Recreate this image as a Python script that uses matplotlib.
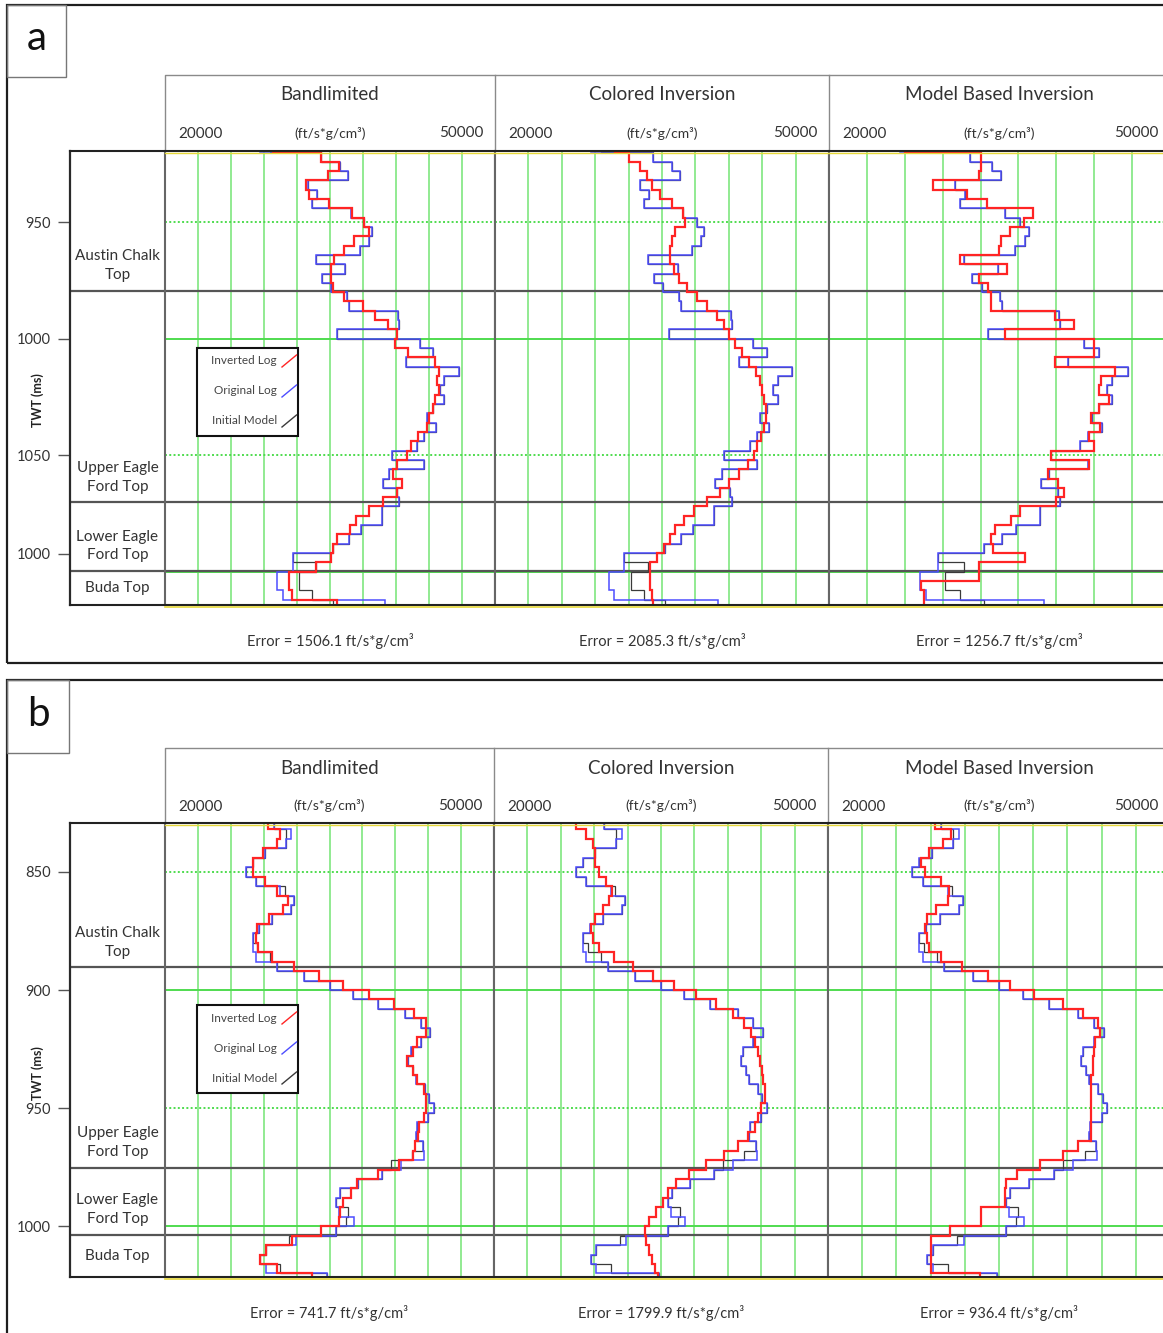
import numpy as np
import matplotlib
matplotlib.use("Agg")
import matplotlib.pyplot as plt
from matplotlib.lines import Line2D
from matplotlib.patches import Rectangle

plt.rcParams["font.family"] = ["Lato", "DejaVu Sans"]

W, H = 1163, 1333
TEXT = "#333333"
GRID = "#74e474"
HGRID = "#4fdc4f"
RED, BLUE, BLACK = "#ff2424", "#4d4dff", "#3a3a3a"

track_names = ["Bandlimited", "Colored Inversion", "Model Based Inversion"]
unit_label = "(ft/s*g/cm\u00b3)"
scale_labels = ["20000", "50000"]
legend_names = ["Inverted Log", "Original Log", "Initial Model"]
formation_names = ["Austin Chalk\nTop", "Upper Eagle\nFord Top", "Lower Eagle\nFord Top", "Buda Top"]

# ---- well a: 4 ms blocks from 916 ms, impedance in ft/s*g/cm3 ----
edges_a = np.arange(916, 1117, 4)
original_a = [28600,
              34200, 35900, 36600, 33000, 33800, 33400, 36900, 38100, 38800, 38500,
              37700, 33700, 36400, 34300, 35100, 36500, 36700, 41200, 41300, 35600,
              43200, 44400, 41900, 46700, 45400, 45000, 45400, 44400, 43800, 44600,
              43500, 42900, 40600, 43500, 40400, 39800, 41100, 41300, 39700, 39700,
              37800, 36700, 35300, 31600, 31600, 30200, 30200, 30700, 40000]
initial_a = [29500,
             34200, 35900, 36600, 33000, 33800, 33400, 36900, 38100, 38800, 38500,
             37700, 33700, 36400, 34300, 35100, 36500, 36700, 41200, 41300, 35600,
             43200, 44400, 41900, 46700, 45400, 45000, 45400, 44400, 43800, 44600,
             43500, 42900, 40600, 43500, 40400, 39800, 41100, 41300, 39700, 39700,
             37800, 36700, 35300, 31600, 33700, 32200, 32200, 33400, 35300]
bandlimited_a = [29800,
                 34200, 35800, 34800, 32800, 33100, 34900, 37000, 38100, 38500, 37200,
                 36300, 35400, 35100, 35100, 35300, 36300, 38000, 39100, 40300, 41100,
                 40900, 42100, 44500, 44900, 44700, 44900, 44500, 44400, 44000, 43800,
                 43000, 42400, 42000, 41100, 40700, 41500, 41100, 39800, 38500, 37400,
                 36800, 35600, 35300, 35100, 33700, 31300, 31300, 31500, 35600]
colored_a = [30800,
             32000, 33050, 33650, 34100, 34850, 35900, 36900, 37100, 36200, 35900,
             35700, 35750, 36050, 36500, 37250, 38150, 39050, 39950, 40550, 41000,
             41600, 42200, 42800, 43400, 43800, 44000, 44200, 44300, 44300, 44150,
             43900, 43550, 43250, 42700, 41900, 41000, 40250, 39050, 37850, 36950,
             36200, 35750, 35150, 34550, 33950, 33900, 33950, 34100, 34200]
model_a = [29000,
           35000, 35000, 34850, 31200, 33900, 35500, 39150, 38450, 37300, 36650,
           36450, 33400, 37100, 34900, 35600, 35850, 35850, 40900, 42400, 36900,
           43950, 43950, 40900, 45650, 44550, 44350, 45200, 44350, 43750, 44450,
           43550, 43950, 40600, 43550, 40350, 41150, 41600, 41000, 38100, 37450,
           36150, 35850, 36000, 38500, 34900, 34900, 30300, 30550, 30550]
tops_a = [979.4, 1070.2, 1099.7]
errors_a = [1506.1, 2085.3, 1256.7]
yticks_a = [950, 1000, 1050, 1092.4]
yticklabels_a = ["950", "1000", "1050", "1000"]
scales_a = [(20000, 50000), (20000, 50000), (23000, 50000)]

# ---- well b ----
edges_b = np.arange(828, 1025, 4)
original_b = [29900, 31500, 31000, 29100, 28000, 27400, 28300, 30500, 31800, 31500,
              29800, 28600, 28000, 28000, 28300, 30200, 32700, 35000, 37100, 39400,
              41900, 43300, 44200, 43300, 42400, 42200, 42600, 42900, 43700, 44100,
              44500, 44000, 43000, 42900, 43500, 43600, 41500, 39800, 37600, 36000,
              35600, 35900, 37200, 35600, 31900, 29200, 28700, 29200, 34800]
initial_b = [29900, 31000, 31000, 29100, 28000, 27400, 28300, 30900, 31800, 31500,
             29800, 28600, 28000, 28400, 29600, 30200, 32700, 35000, 37100, 39400,
             41900, 43300, 44200, 43300, 42400, 42200, 42600, 42900, 43700, 44100,
             44500, 44000, 43000, 42900, 43500, 42500, 40600, 39800, 37600, 36000,
             35600, 36700, 36500, 35600, 31300, 29200, 28700, 30500, 34800]
bandlimited_b = [29400, 30500, 30200, 28900, 28000, 28000, 29100, 30200, 31200, 30800,
                 29500, 28400, 28300, 28500, 29800, 31800, 34000, 36200, 38600, 40900,
                 42700, 43800, 43800, 43000, 42600, 42100, 42600, 43000, 43600, 43800,
                 43800, 43600, 43200, 43100, 42800, 42600, 41300, 39400, 37500, 37000,
                 36200, 36000, 35900, 34200, 31600, 29200, 28700, 30200, 33400]
colored_b = [27400, 28250, 28850, 29100, 29100, 29400, 30050, 30600, 30350, 29750,
             29100, 28700, 28900, 29450, 30800, 32450, 34250, 36200, 38150, 39950,
             41450, 42500, 43100, 43400, 43700, 43900, 44100, 44200, 44300, 44300,
             44000, 43700, 43400, 42800, 41900, 40700, 39050, 37500, 36350, 35600,
             35150, 34550, 33950, 33600, 33650, 33900, 34200, 34500, 34700]
model_b = [29400, 30800, 30100, 28900, 28200, 28500, 29950, 30600, 30500, 29500,
           28650, 28500, 28650, 28850, 29950, 31750, 34000, 35950, 38100, 40650,
           42400, 43700, 43850, 43450, 43350, 43250, 43250, 43100, 43050, 43050,
           43100, 43100, 43100, 43100, 41950, 40650, 38600, 36550, 35650, 35500,
           35500, 33450, 33450, 30700, 29050, 29000, 29000, 29050, 33300]
tops_b = [890.3, 975.3, 1003.7]
errors_b = [741.7, 1799.9, 936.4]
yticks_b = [850, 900, 950, 1000]
yticklabels_b = ["850", "900", "950", "1000"]
scales_b = [(20000, 50000), (20000, 50000), (20000, 50000)]

layout_a = dict(frame=(7, 5, 1180, 663), letter_box=(7, 5, 66, 77), header_top=75,
                track_top=150.5, track_bottom=605, error_y=641,
                track_x=[165, 495, 829, 1170], legend=(197, 348, 298, 436),
                tlim=(919.2, 1114.3))
layout_b = dict(frame=(7, 680, 1180, 1350), letter_box=(7, 680, 69, 753), header_top=748,
                track_top=823, track_bottom=1277, error_y=1313,
                track_x=[165, 494, 828, 1170], legend=(197, 1005, 298, 1093),
                tlim=(829.3, 1021.5))


def fig_box(x0, y0, x1, y1):
    return [x0 / W, 1 - y1 / H, (x1 - x0) / W, (y1 - y0) / H]


def fig_line(fig, xs, ys, **kw):
    fig.add_artist(Line2D([x / W for x in xs], [1 - y / H for y in ys],
                          transform=fig.transFigure, **kw))


def fig_rect(fig, x0, y0, x1, y1, **kw):
    kw.setdefault("fill", False)
    fig.add_artist(Rectangle((x0 / W, 1 - y1 / H), (x1 - x0) / W, (y1 - y0) / H,
                             transform=fig.transFigure, **kw))


def fig_text(fig, x, y, s, **kw):
    fig.text(x / W, 1 - y / H, s, **kw)


def draw_panel(fig, lay, letter, edges, original, initial, inverted, scales,
               tops, yticks, yticklabels, errors):
    fig_rect(fig, *lay["frame"], lw=1.6, edgecolor="#1e1e1e")
    lx0, ly0, lx1, ly1 = lay["letter_box"]
    fig_rect(fig, lx0, ly0, lx1, ly1, lw=1.0, edgecolor="#777777")
    fig_text(fig, (lx0 + lx1) / 2, (ly0 + ly1) / 2 - 2, letter, fontsize=29,
             ha="center", va="center", color="#111111")

    xs = lay["track_x"]
    ht, tt, tb = lay["header_top"], lay["track_top"], lay["track_bottom"]
    t0, t1 = lay["tlim"]

    # header with track titles and scale
    fig_line(fig, [xs[0], xs[0], 1180], [tt, ht, ht], lw=1.0, color="#8a8a8a")
    for x in xs[1:-1]:
        fig_line(fig, [x, x], [ht, tt], lw=1.0, color="#8a8a8a")
    for k, name in enumerate(track_names):
        xa, xb = xs[k], xs[k + 1]
        xm = (xa + xb) / 2
        fig_text(fig, xm, ht + 20, name, fontsize=13.5, ha="center", va="center", color=TEXT)
        fig_text(fig, xa + 13, ht + 59, scale_labels[0], fontsize=11, ha="left", va="center", color=TEXT)
        fig_text(fig, xb - 12, ht + 58, scale_labels[1], fontsize=11, ha="right", va="center", color=TEXT)
        fig_text(fig, xm, ht + 58, unit_label, fontsize=10, ha="center", va="center", color=TEXT)
        fig_text(fig, xm, lay["error_y"], f"Error = {errors[k]} ft/s*g/cm\u00b3",
                 fontsize=10.5, ha="center", va="center", color=TEXT)

    # time axis and formation names
    ax_lab = fig.add_axes(fig_box(70, tt, xs[0], tb))
    ax_lab.set_xlim(0, 1)
    ax_lab.set_ylim(t1, t0)
    ax_lab.set_xticks([])
    ax_lab.set_yticks(yticks)
    ax_lab.set_yticklabels(yticklabels, fontsize=10.5, color=TEXT)
    ax_lab.tick_params(axis="y", length=9, width=1.0, pad=5, color="#555555")
    for side in ["right", "top", "bottom"]:
        ax_lab.spines[side].set_visible(False)
    ax_lab.spines["left"].set_linewidth(1.6)
    ax_lab.spines["left"].set_color("#2a2a2a")
    for t in tops:
        ax_lab.axhline(t, color="#555555", lw=1.6)
    for name, t in zip(formation_names[:3], tops):
        ax_lab.annotate(name, xy=(0.5, t), xycoords=("axes fraction", "data"),
                        xytext=(0, 25), textcoords="offset pixels", ha="center", va="center",
                        fontsize=11, linespacing=1.45, color=TEXT)
    ax_lab.text(0.5, (tops[-1] + t1) / 2, formation_names[3], ha="center", va="center",
                fontsize=11, color=TEXT, transform=ax_lab.get_yaxis_transform())
    fig_text(fig, 38, tt + 250, "TWT (ms)", fontsize=9, fontweight="bold", rotation=90,
             ha="center", va="center", color="#222222")

    grid_times = np.arange(np.ceil(t0 / 50) * 50, t1, 50)
    for k in range(3):
        ax = fig.add_axes(fig_box(xs[k], tt, xs[k + 1], tb))
        lo, hi = scales[k]
        ax.set_xlim(lo, hi)
        ax.set_ylim(t1, t0)
        for v in np.arange(lo + 3000, hi, 3000):
            ax.axvline(v, color=GRID, lw=1.1, zorder=1)
        for t in grid_times:
            if t % 100 == 0:
                ax.axhline(t, color=HGRID, lw=1.4, zorder=1)
            else:
                ax.axhline(t, color=HGRID, lw=1.4, ls=(0, (1, 1.2)), zorder=1)
        for t in tops:
            ax.axhline(t, color="#555555", lw=1.6, zorder=1.5)
        # initial model sits underneath the original log
        ax.stairs(initial, edges, orientation="horizontal", baseline=None,
                  color=BLACK, lw=0.9, zorder=2)
        ax.stairs(original, edges, orientation="horizontal", baseline=None,
                  color=BLUE, lw=1.1, zorder=2.2)
        ax.stairs(inverted[k], edges, orientation="horizontal", baseline=None,
                  color=RED, lw=1.6, zorder=3)
        ax.set_xticks([])
        ax.set_yticks([])
        for side in ["top", "bottom"]:
            ax.spines[side].set_visible(False)
        for side in ["left", "right"]:
            ax.spines[side].set_color("#666666")
            ax.spines[side].set_linewidth(1.5)

    # log track frame lines
    fig_line(fig, [70, 1180], [tt, tt], lw=1.5, color="#222222")
    fig_line(fig, [xs[0], 1180], [tt + 2, tt + 2], lw=1.0, color="#e6d83a")
    fig_line(fig, [70, 1180], [tb, tb], lw=1.5, color="#222222")
    fig_line(fig, [xs[0], 1180], [tb + 1.8, tb + 1.8], lw=1.2, color="#e6d83a")

    # legend
    gx0, gy0, gx1, gy1 = lay["legend"]
    fig_rect(fig, gx0, gy0, gx1, gy1, lw=1.5, edgecolor="#111111", fill=True,
             facecolor="white", zorder=5)
    for j, (name, color) in enumerate(zip(legend_names, [RED, BLUE, BLACK])):
        y = gy0 + 13 + 30 * j
        fig_text(fig, gx1 - 21, y, name, fontsize=8.5, ha="right", va="center",
                 color="#444444", zorder=6)
        fig_line(fig, [gx1 - 16, gx1 - 1.5], [y + 6, y - 6], color=color, lw=1.0, zorder=6)


fig = plt.figure(figsize=(W / 100, H / 100), dpi=100)
draw_panel(fig, layout_a, "a", edges_a, original_a, initial_a,
           [bandlimited_a, colored_a, model_a], scales_a, tops_a,
           yticks_a, yticklabels_a, errors_a)
draw_panel(fig, layout_b, "b", edges_b, original_b, initial_b,
           [bandlimited_b, colored_b, model_b], scales_b, tops_b,
           yticks_b, yticklabels_b, errors_b)
fig.savefig("out.png", dpi=100)
